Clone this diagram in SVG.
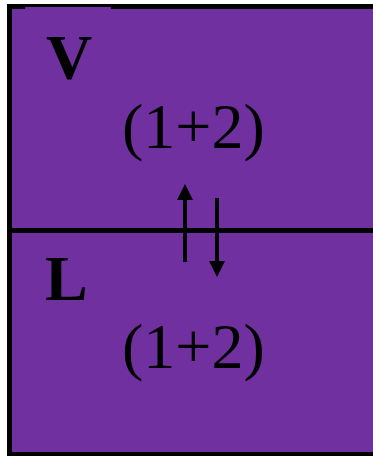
<svg xmlns="http://www.w3.org/2000/svg" width="373" height="456" viewBox="0 0 373 456">
<defs>
<style>
.box{fill:#7030A0;stroke:#000;stroke-width:5}
.patch{fill:#7030A0}
.lbl{font-family:"Liberation Serif",serif;font-weight:bold;font-size:64px;fill:#000}
.cmp{font-family:"Liberation Serif",serif;font-size:64px;fill:#000}
.arr{stroke:#000;stroke-width:4;fill:none;marker-end:url(#ah)}
</style>
<marker id="ah" viewBox="0 0 16 16" refX="1" refY="8" markerWidth="16" markerHeight="16" markerUnits="userSpaceOnUse" orient="auto">
<path d="M0,0 L16,8 L0,16 Z" fill="#000"/>
</marker>
</defs>
<g id="vapor">
<rect class="box" x="9.5" y="6.5" width="370" height="224"/>
<rect class="patch" x="25" y="7" width="86" height="20"/>
<text class="lbl" x="46" y="79">V</text>
<text class="cmp" x="122" y="148">(1+2)</text>
</g>
<g id="liquid">
<rect class="box" x="9.5" y="230.5" width="370" height="224"/>
<rect class="patch" x="25" y="233" width="82" height="20"/>
<text class="lbl" x="45" y="300">L</text>
<text class="cmp" x="122" y="368">(1+2)</text>
</g>
<g id="connectors">
<line class="arr" x1="185" y1="262" x2="185" y2="199"/>
<line class="arr" x1="217" y1="198" x2="217" y2="262"/>
</g>
</svg>
